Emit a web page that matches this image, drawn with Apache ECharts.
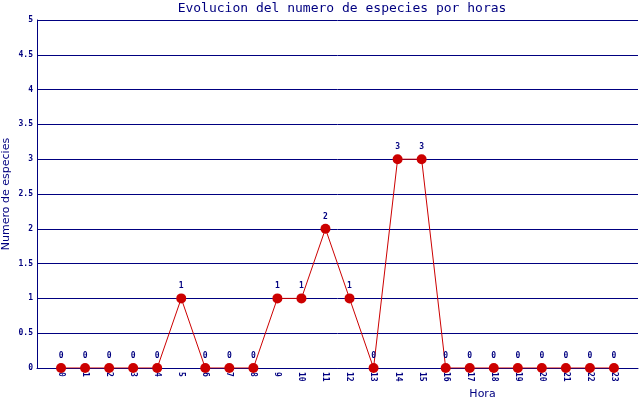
<!DOCTYPE html>
<html><head><meta charset="utf-8">
<script src="https://cdn.jsdelivr.net/npm/echarts@6/dist/echarts.min.js"></script>
<style>html,body{margin:0;padding:0;background:#fff}#c{width:640px;height:400px}</style>
</head><body><div id="c"></div>
<script>
const hours = [0,1,2,3,4,5,6,7,8,9,10,11,12,13,14,15,16,17,18,19,20,21,22,23];
const species = [0,0,0,0,0,1,0,0,0,1,1,2,1,0,3,3,0,0,0,0,0,0,0,0];
const yTicks = [0,0.5,1,1.5,2,2.5,3,3.5,4,4.5,5];
const titleText = 'Evolucion del numero de especies por horas';
const xName = 'Hora';
const yName = 'Numero de especies';
const navy = '#000080';
const mono = 'DejaVu Sans Mono';
const chart = echarts.init(document.getElementById('c'));
chart.setOption({
  backgroundColor: '#fff',
  animation: false,
  title: { text: titleText, left: 337, textAlign: 'center', top: -3,
    textStyle: { fontFamily: mono, fontSize: 13, fontWeight: 'normal', color: navy } },
  grid: { left: 37, right: 2, top: 20, bottom: 32, containLabel: false, outerBoundsMode: 'none' },
  xAxis: {
    type: 'value', min: -1, max: 24, interval: 1,
    name: xName, nameLocation: 'middle', nameGap: 21, nameMoveOverlap: false,
    nameTextStyle: { fontFamily: 'DejaVu Sans', fontSize: 11, color: navy, padding: [0,0,0,290] },
    axisLine: { show: true, onZero: false, lineStyle: { color: navy, width: 1 } },
    axisTick: { show: false },
    splitLine: { show: false },
    axisLabel: { rotate: -90, margin: 4, fontFamily: mono, fontWeight: 'bold', fontSize: 8, color: navy,
      formatter: v => hours.includes(v) ? String(v) : '' }
  },
  yAxis: {
    type: 'value', min: 0, max: 5, interval: 0.5,
    name: yName, nameLocation: 'middle', nameGap: 25, nameMoveOverlap: false,
    nameTextStyle: { fontFamily: 'DejaVu Sans', fontSize: 11, color: navy },
    axisLine: { show: true, onZero: false, lineStyle: { color: navy, width: 1 } },
    axisTick: { show: false },
    splitLine: { show: true, lineStyle: { color: navy, width: 1 } },
    axisLabel: { margin: 4, fontFamily: mono, fontWeight: 'bold', fontSize: 8, color: navy,
      formatter: v => yTicks.includes(v) ? String(v) : '' }
  },
  series: [{
    type: 'line',
    data: hours.map((h, i) => [h, species[i]]),
    symbol: 'circle', symbolSize: 10,
    itemStyle: { color: '#cc0000' },
    lineStyle: { color: '#cc0000', width: 1 },
    label: { show: true, position: 'top', distance: 3, fontFamily: mono, fontWeight: 'bold', fontSize: 8, color: navy,
      formatter: p => String(p.value[1]) }
  }]
});
</script></body></html>
